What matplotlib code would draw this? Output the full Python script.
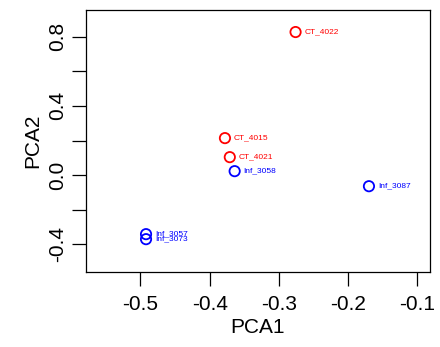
import matplotlib
matplotlib.use("Agg")
import matplotlib.pyplot as plt

# PCA scores
names = ["CT_4022", "CT_4015", "CT_4021", "Inf_3058", "Inf_3087", "Inf_3057", "Inf_3073"]
pca1 = [-0.276, -0.378, -0.371, -0.364, -0.170, -0.492, -0.492]
pca2 = [0.827, 0.214, 0.104, 0.023, -0.064, -0.341, -0.370]
colors = ["red", "red", "red", "blue", "blue", "blue", "blue"]

plt.rcParams['font.family'] = ['Liberation Sans', 'DejaVu Sans']

fig = plt.figure(figsize=(4.4, 3.47), dpi=100)
ax = fig.add_axes([0.195, 0.216, 0.782, 0.755])

ax.scatter(pca1, pca2, s=55, facecolors='none', edgecolors=colors, linewidths=1.3, zorder=3)
for n, x, y, c in zip(names, pca1, pca2, colors):
    ax.annotate(n, (x, y), xytext=(6.5, 0), textcoords='offset points',
                va='center', ha='left', fontsize=6, color=c)

ax.set_xlim(-0.579, -0.082)
ax.set_ylim(-0.56, 0.954)

ax.set_xticks([-0.5, -0.4, -0.3, -0.2, -0.1])
ax.set_xticklabels(["-0.5", "-0.4", "-0.3", "-0.2", "-0.1"])
ax.set_yticks([-0.4, -0.2, 0.0, 0.2, 0.4, 0.6, 0.8])
ax.set_yticklabels(["-0.4", "", "0.0", "", "0.4", "", "0.8"], rotation=90, va='center')

ax.tick_params(axis='both', labelsize=15, length=10, width=0.9)
ax.tick_params(axis='x', pad=6.5)
ax.tick_params(axis='y', pad=3.5)
for sp in ax.spines.values():
    sp.set_linewidth(0.9)

ax.set_xlabel("PCA1", fontsize=15, labelpad=3)
ax.set_ylabel("PCA2", fontsize=15, labelpad=4.5)

fig.savefig("out.png", dpi=100)
